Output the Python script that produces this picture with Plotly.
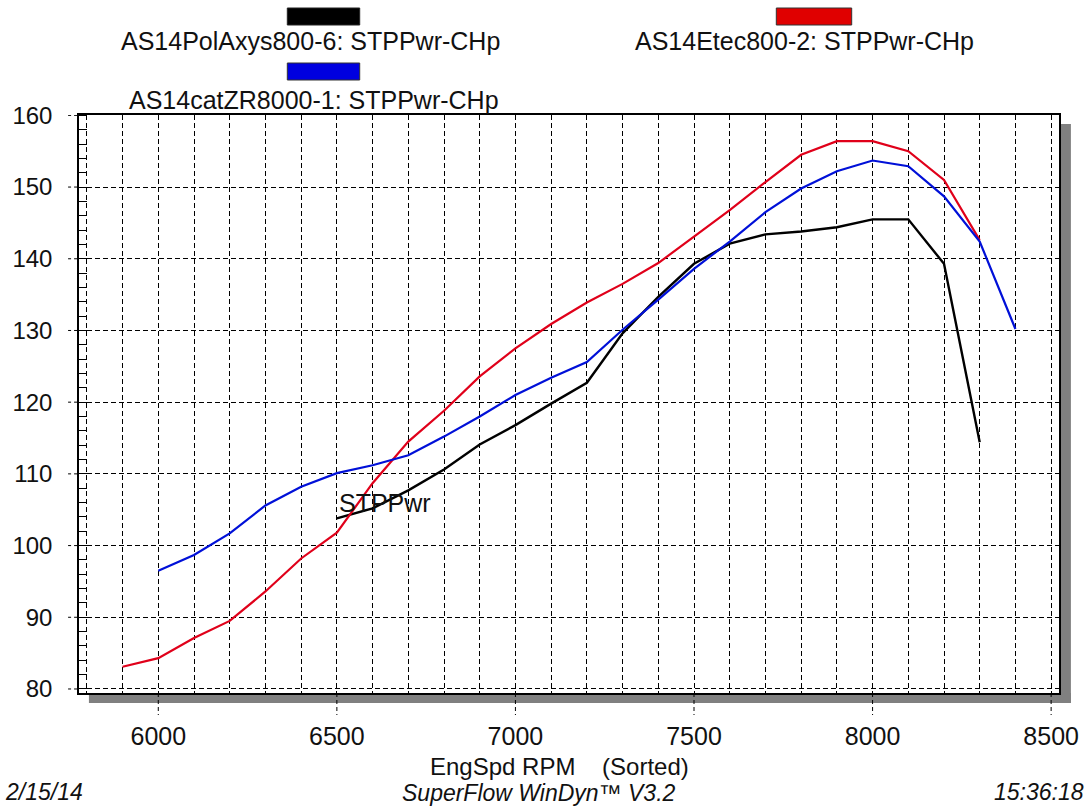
import plotly.graph_objects as go

# ---------------- data ----------------
rpm_black = [6500, 6600, 6700, 6800, 6900, 7000, 7100, 7200, 7300, 7400,
             7500, 7600, 7700, 7800, 7900, 8000, 8100, 8200, 8300]
hp_black = [103.8, 105.2, 107.7, 110.6, 114.1, 116.8, 119.8, 122.7, 129.6, 134.7,
            139.3, 142.1, 143.4, 143.8, 144.4, 145.5, 145.5, 139.3, 114.4]

rpm_red = [5900, 6000, 6100, 6200, 6300, 6400, 6500, 6600, 6700, 6800,
           6900, 7000, 7100, 7200, 7300, 7400, 7500, 7600, 7700, 7800,
           7900, 8000, 8100, 8200, 8300]
hp_red = [83.1, 84.3, 87.1, 89.5, 93.6, 98.2, 101.8, 108.7, 114.5, 118.8,
          123.6, 127.5, 130.9, 133.9, 136.5, 139.4, 143.1, 146.8, 150.7, 154.5,
          156.4, 156.4, 155.0, 151.0, 142.6]

rpm_blue = [6000, 6100, 6200, 6300, 6400, 6500, 6600, 6700, 6800, 6900,
            7000, 7100, 7200, 7300, 7400, 7500, 7600, 7700, 7800, 7900,
            8000, 8100, 8200, 8300, 8400]
hp_blue = [96.5, 98.7, 101.7, 105.6, 108.2, 110.1, 111.2, 112.6, 115.2, 118.0,
           121.0, 123.4, 125.6, 130.1, 134.3, 138.6, 142.4, 146.5, 149.8, 152.2,
           153.7, 152.9, 148.7, 142.4, 130.2]

series_names = ["AS14PolAxys800-6: STPPwr-CHp",
                "AS14Etec800-2: STPPwr-CHp",
                "AS14catZR8000-1: STPPwr-CHp"]
x_tick_vals = [6000, 6500, 7000, 7500, 8000, 8500]
y_tick_vals = [80, 90, 100, 110, 120, 130, 140, 150, 160]

BLACK = "#000000"
RED = "#e0001a"
BLUE = "#0010d8"

# ---------------- layout geometry ----------------
W, H = 1091, 807
L, R, T, B = 77, 1065, 115, 693


def px(x):
    return (x - L) / (R - L)


def py(y):
    return (B - y) / (B - T)


FONT = "Arial, Liberation Sans, sans-serif"

fig = go.Figure()
fig.add_trace(go.Scatter(x=rpm_black, y=hp_black, mode="lines",
                         line=dict(color=BLACK, width=2.4), name=series_names[0],
                         showlegend=False))
fig.add_trace(go.Scatter(x=rpm_red, y=hp_red, mode="lines",
                         line=dict(color=RED, width=2.2), name=series_names[1],
                         showlegend=False))
fig.add_trace(go.Scatter(x=rpm_blue, y=hp_blue, mode="lines",
                         line=dict(color=BLUE, width=2.2), name=series_names[2],
                         showlegend=False))

GRID_DASH = "5px,3px"

fig.update_xaxes(
    range=[5778, 8522],
    tickmode="array", tickvals=x_tick_vals,
    ticks="outside", ticklen=20, tickcolor="rgba(0,0,0,0)",
    tickfont=dict(family=FONT, size=25, color="#111"),
    showgrid=True, gridcolor=BLACK, gridwidth=1, griddash=GRID_DASH,
    minor=dict(dtick=100, tick0=0, showgrid=True, gridcolor=BLACK,
               gridwidth=1, griddash=GRID_DASH, ticks=""),
    showline=True, linecolor=BLACK, linewidth=1.5, mirror=True,
    zeroline=False,
)
fig.update_yaxes(
    range=[79.44, 160.05],
    tickmode="array", tickvals=y_tick_vals,
    ticks="outside", ticklen=10, tickcolor="rgba(0,0,0,0)",
    ticklabelstandoff=10,
    tickfont=dict(family=FONT, size=24, color="#111"),
    showgrid=True, gridcolor=BLACK, gridwidth=1, griddash=GRID_DASH,
    minor=dict(dtick=2, tick0=0, ticks="inside", ticklen=8,
               tickcolor=BLACK, tickwidth=1, showgrid=False),
    showline=True, linecolor=BLACK, linewidth=1.5, mirror=True,
    zeroline=False,
)

shapes = []
# drop shadow of the plot frame
shapes.append(dict(type="rect", xref="paper", yref="paper",
                   x0=px(1065), x1=px(1077), y0=py(703), y1=py(124),
                   fillcolor="#808080", line=dict(width=0), layer="below"))
shapes.append(dict(type="rect", xref="paper", yref="paper",
                   x0=px(87), x1=px(1077), y0=py(703), y1=py(693),
                   fillcolor="#808080", line=dict(width=0), layer="below"))
# dashed outside ticks
for v in x_tick_vals:
    shapes.append(dict(type="line", xref="x", yref="paper", x0=v, x1=v,
                       y0=0, y1=py(715), line=dict(color=BLACK, width=1, dash="4px,3px")))
for v in y_tick_vals:
    shapes.append(dict(type="line", xref="paper", yref="y", x0=px(66), x1=0,
                       y0=v, y1=v, line=dict(color=BLACK, width=1, dash="3px,3px")))
# legend swatches
shapes.append(dict(type="rect", xref="paper", yref="paper",
                   x0=px(287), x1=px(360), y0=py(25), y1=py(8),
                   fillcolor=BLACK, line=dict(color="#222", width=1)))
shapes.append(dict(type="rect", xref="paper", yref="paper",
                   x0=px(780), x1=px(856), y0=py(25), y1=py(8),
                   fillcolor="#e00000", line=dict(color="#333", width=1)))
shapes.append(dict(type="rect", xref="paper", yref="paper",
                   x0=px(287), x1=px(360), y0=py(80), y1=py(63),
                   fillcolor="#0000e0", line=dict(color="#333", width=1)))

ann = []


def text(s, x, y, size=25, italic=False, xanchor="center"):
    ann.append(dict(text=s, xref="paper", yref="paper", x=px(x), y=py(y),
                    xanchor=xanchor, yanchor="middle", showarrow=False,
                    borderpad=0,
                    font=dict(family=FONT, size=size, color="#111",
                              style="italic" if italic else "normal")))


text(series_names[0], 310, 41)
text(series_names[1], 808, 41)
text(series_names[2], 314, 100)
text("EngSpd RPM&nbsp;&nbsp;&nbsp;&nbsp;(Sorted)", 561, 766, size=24)
text("2/15/14", 1, 792, size=23, italic=True, xanchor="left")
text("SuperFlow WinDyn™ V3.2", 541, 793, size=23, italic=True)
text("15:36:18", 1091, 792, size=23, italic=True, xanchor="right")

ann.append(dict(text="STPPwr", xref="x", yref="y",
                x=rpm_black[0], y=hp_black[0], xanchor="left", yanchor="middle",
                yshift=15, showarrow=False,
                font=dict(family=FONT, size=25, color="#111")))

fig.update_layout(
    width=W, height=H,
    margin=dict(l=L, r=W - R, t=T, b=H - B, pad=0),
    paper_bgcolor="white", plot_bgcolor="white",
    shapes=shapes, annotations=ann, showlegend=False,
)

fig.write_html("out.html")
